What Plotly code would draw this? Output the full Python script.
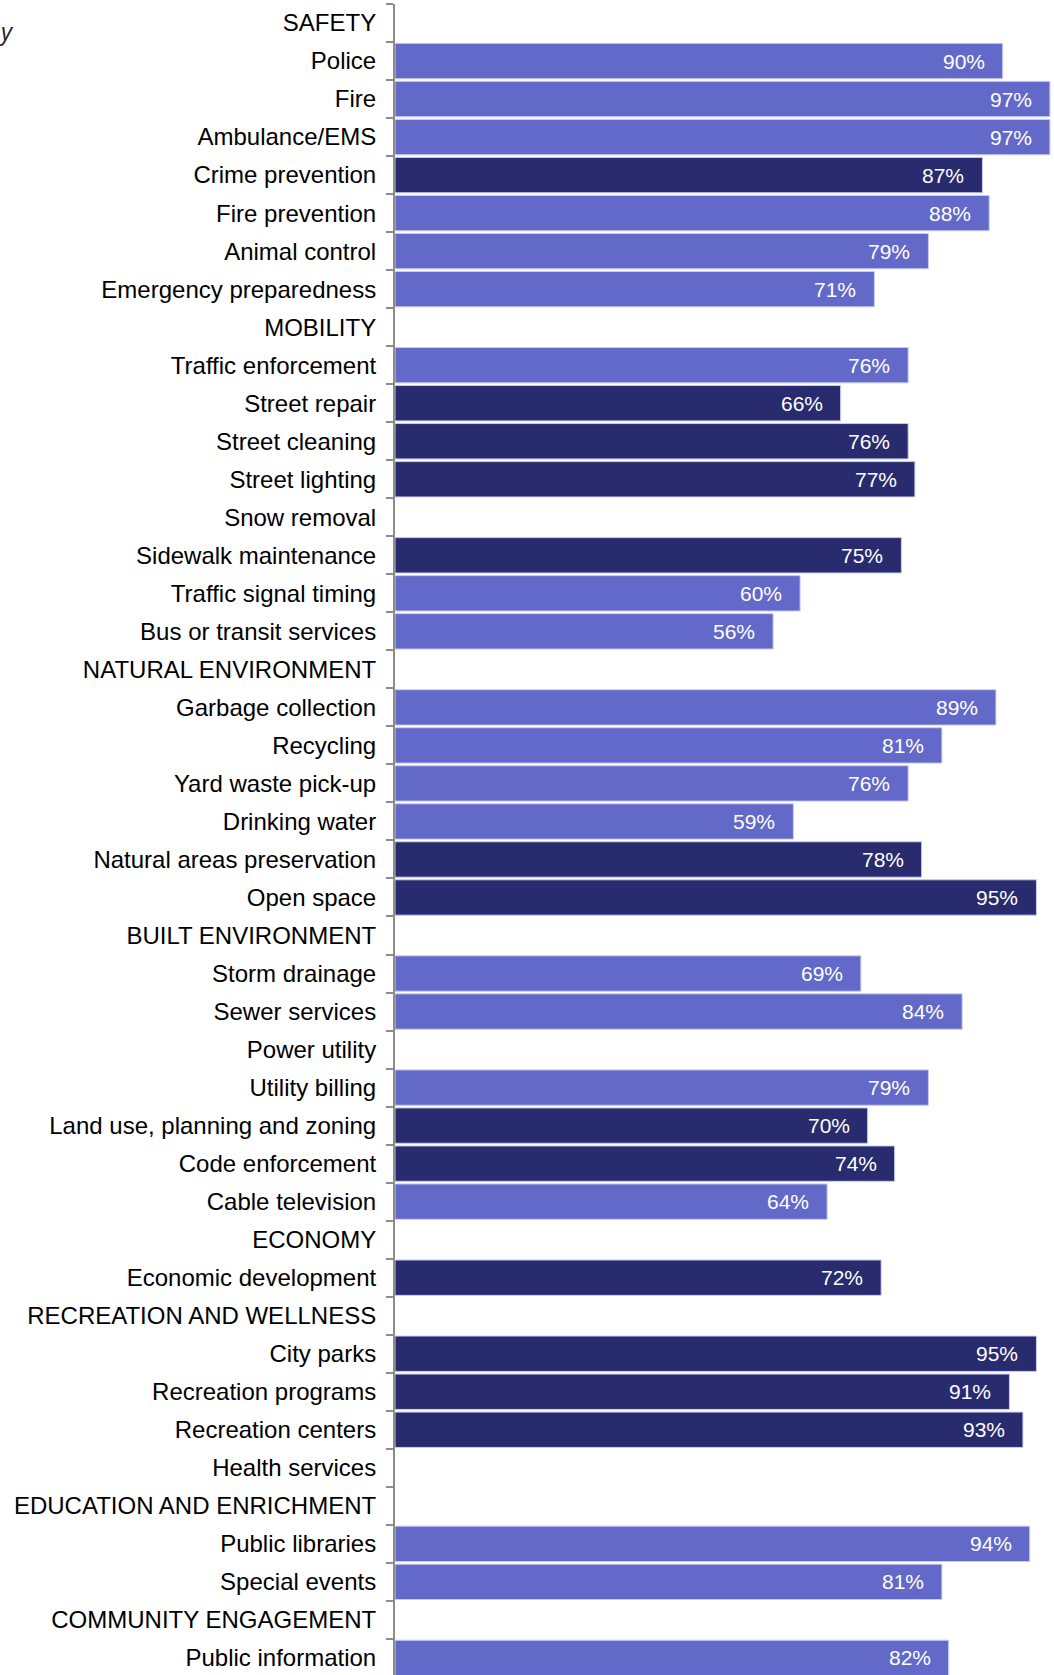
import plotly.graph_objects as go

categories = [
    "SAFETY", "Police", "Fire", "Ambulance/EMS", "Crime prevention", "Fire prevention",
    "Animal control", "Emergency preparedness",
    "MOBILITY", "Traffic enforcement", "Street repair", "Street cleaning", "Street lighting",
    "Snow removal", "Sidewalk maintenance", "Traffic signal timing", "Bus or transit services",
    "NATURAL ENVIRONMENT", "Garbage collection", "Recycling", "Yard waste pick-up",
    "Drinking water", "Natural areas preservation", "Open space",
    "BUILT ENVIRONMENT", "Storm drainage", "Sewer services", "Power utility", "Utility billing",
    "Land use, planning and zoning", "Code enforcement", "Cable television",
    "ECONOMY", "Economic development",
    "RECREATION AND WELLNESS", "City parks", "Recreation programs", "Recreation centers",
    "Health services",
    "EDUCATION AND ENRICHMENT", "Public libraries", "Special events",
    "COMMUNITY ENGAGEMENT", "Public information",
]

# percent values, light-coloured series
light_values = [
    None, 90, 97, 97, None, 88, 79, 71,
    None, 76, None, None, None, None, None, 60, 56,
    None, 89, 81, 76, 59, None, None,
    None, 69, 84, None, 79, None, None, 64,
    None, None,
    None, None, None, None, None,
    None, 94, 81,
    None, 82,
]

# percent values, dark-coloured series
dark_values = [
    None, None, None, None, 87, None, None, None,
    None, None, 66, 76, 77, None, 75, None, None,
    None, None, None, None, None, 78, 95,
    None, None, None, None, None, 70, 74, None,
    None, 72,
    None, 95, 91, 93, None,
    None, None, None,
    None, None,
]

LIGHT = "#6369C8"
DARK = "#282B6E"
EDGE = "#C9CCF2"
FONT = "Liberation Sans, Arial, sans-serif"

fig = go.Figure()
fig.add_trace(go.Bar(y=categories, x=light_values, orientation="h",
                     marker=dict(color=LIGHT, line=dict(color=EDGE, width=1)),
                     hoverinfo="skip", showlegend=False))
fig.add_trace(go.Bar(y=categories, x=dark_values, orientation="h",
                     marker=dict(color=DARK, line=dict(color=EDGE, width=1)),
                     hoverinfo="skip", showlegend=False))

for vals in (light_values, dark_values):
    for cat, v in zip(categories, vals):
        if v is None:
            continue
        fig.add_annotation(x=v, y=cat, xref="x", yref="y", text=f"{v}%",
                           showarrow=False, xanchor="right", yanchor="middle",
                           xshift=-16, font=dict(family=FONT, size=21, color="white"))

left_margin = 395
plot_w = 1054 - left_margin
fig.add_annotation(x=-left_margin / plot_w, y=1 - 27 / 1671, xref="paper", yref="paper",
                   text="<i>y</i>", showarrow=False, xanchor="left", yanchor="middle",
                   xshift=-4,
                   font=dict(family="Open Sans, sans-serif", size=24, color="#222222"))

fig.update_layout(
    width=1054, height=1675,
    margin=dict(l=left_margin, r=0, t=4, b=0, pad=0, autoexpand=False),
    barmode="overlay", bargap=0.07,
    plot_bgcolor="white", paper_bgcolor="white",
    font=dict(family=FONT, size=24, color="black"),
)
fig.update_xaxes(range=[0, 97.6], showticklabels=False, showgrid=False,
                 zeroline=False, showline=False, fixedrange=True, automargin=False)
fig.update_yaxes(categoryorder="array", categoryarray=categories,
                 range=[len(categories) - 0.55, -0.5],
                 showline=True, linecolor="#8C8C8C", linewidth=2,
                 ticks="outside", ticklen=7, tickcolor="#8C8C8C", tickwidth=2,
                 tickson="boundaries", ticklabelstandoff=12, automargin=False,
                 tickfont=dict(family=FONT, size=24, color="black"),
                 showgrid=False, zeroline=False, fixedrange=True)

fig.write_html("out.html", config={"displayModeBar": False},
               post_script="document.body.style.margin='0';document.body.style.overflow='hidden';")
